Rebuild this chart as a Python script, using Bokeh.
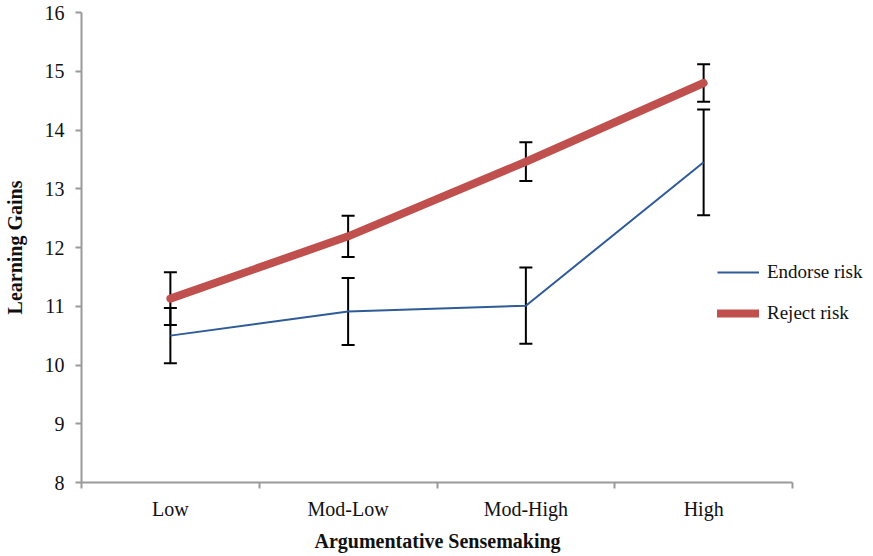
import numpy as np
from bokeh.plotting import figure
from bokeh.models import (Range1d, FixedTicker, ColumnDataSource, Whisker, TeeHead,
                          Legend, LegendItem, Title)
from bokeh.embed import file_html
from bokeh.resources import INLINE

categories = ["Low", "Mod-Low", "Mod-High", "High"]
endorse_mean = [10.50, 10.91, 11.01, 13.45]
endorse_err = [0.47, 0.57, 0.65, 0.90]
reject_mean = [11.13, 12.19, 13.46, 14.80]
reject_err = [0.45, 0.35, 0.33, 0.32]
y_ticks = [8, 9, 10, 11, 12, 13, 14, 15, 16]

FONT = "Liberation Serif"
AXIS_COLOR = "#9a9a9a"
BLUE = "#2f5b98"
RED = "#c0504d"

n = len(categories)
xpos = [i + 0.5 for i in range(n)]
frame_w = 783
axis_w = 711
x_end = n * frame_w / axis_w

p = figure(output_backend="svg", toolbar_location=None,
           frame_width=frame_w, frame_height=470,
           x_range=Range1d(0, x_end), y_range=Range1d(8, 16),
           min_border_left=74, min_border_top=12, min_border_right=0, min_border_bottom=10)
p.background_fill_color = "white"
p.border_fill_color = "white"
p.outline_line_color = None
p.grid.visible = False

# x axis
p.xaxis.bounds = (0, n)
p.xaxis.ticker = FixedTicker(ticks=xpos, minor_ticks=list(range(n + 1)))
p.xaxis.major_label_overrides = {x: c for x, c in zip(xpos, categories)}
p.xaxis.major_tick_out = 0
p.xaxis.major_tick_in = 0
p.xaxis.minor_tick_out = 6
p.xaxis.minor_tick_in = 0
p.xaxis.minor_tick_line_color = AXIS_COLOR
p.xaxis.minor_tick_line_width = 2
p.xaxis.major_label_standoff = 9

# y axis
p.yaxis.ticker = FixedTicker(ticks=y_ticks, minor_ticks=[])
p.yaxis.major_tick_out = 6
p.yaxis.major_tick_in = 0
p.yaxis.major_label_standoff = 11
p.yaxis.axis_label = "Learning Gains"
p.yaxis.axis_label_standoff = 16

for ax in (p.xaxis, p.yaxis):
    ax.axis_line_color = AXIS_COLOR
    ax.axis_line_width = 2
    ax.major_tick_line_color = AXIS_COLOR
    ax.major_tick_line_width = 2
    ax.major_label_text_font = FONT
    ax.major_label_text_font_size = "20px"
    ax.major_label_text_color = "#111111"
    ax.axis_label_text_font = FONT
    ax.axis_label_text_font_size = "20px"
    ax.axis_label_text_font_style = "bold"
    ax.axis_label_text_color = "#111111"

# x-axis title centred under the category axis (not under the whole frame)
xt = Title(text="Argumentative Sensemaking", align="left", offset=233,
           text_font=FONT, text_font_size="20px", text_font_style="bold",
           text_color="#111111", standoff=10)
p.add_layout(xt, "below")

e_mean = np.array(endorse_mean)
e_err = np.array(endorse_err)
r_mean = np.array(reject_mean)
r_err = np.array(reject_err)

src_e = ColumnDataSource(dict(x=xpos, y=e_mean, lo=e_mean - e_err, hi=e_mean + e_err))
src_r = ColumnDataSource(dict(x=xpos, y=r_mean, lo=r_mean - r_err, hi=r_mean + r_err))

blue_line = p.line("x", "y", source=src_e, line_color=BLUE, line_width=2)

for src in (src_e, src_r):
    w = Whisker(source=src, base="x", upper="hi", lower="lo", dimension="height",
                line_color="black", line_width=2,
                upper_head=TeeHead(size=13, line_color="black", line_width=2),
                lower_head=TeeHead(size=13, line_color="black", line_width=2))
    p.add_layout(w)

red_line = p.line("x", "y", source=src_r, line_color=RED, line_width=8,
                  line_cap="round", line_join="round")

legend = Legend(items=[LegendItem(label="Endorse risk", renderers=[blue_line]),
                       LegendItem(label="Reject risk", renderers=[red_line])],
                location=(636, 154), orientation="vertical",
                glyph_width=42, glyph_height=30, spacing=11, label_standoff=8,
                padding=0, margin=0, border_line_color=None, background_fill_alpha=0,
                label_text_font=FONT, label_text_font_size="19px", label_text_color="#111111")
p.add_layout(legend, "center")

open("out.html", "w").write(file_html(p, INLINE))
